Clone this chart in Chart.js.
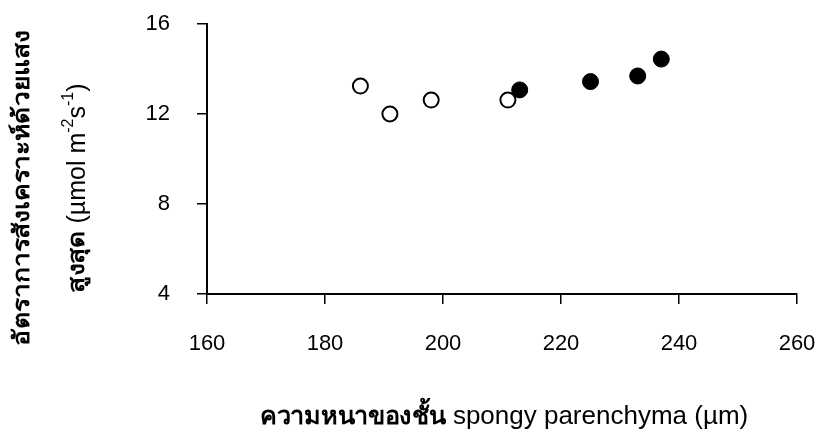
<!DOCTYPE html>
<html>
<head>
<meta charset="utf-8">
<script src="https://cdn.jsdelivr.net/npm/chart.js@4/dist/chart.umd.min.js"></script>
<style>
html, body { margin: 0; padding: 0; background: #fff; }
#wrap { width: 821px; height: 444px; }
</style>
</head>
<body>
<div id="wrap"><canvas id="photoChart" width="821" height="444"></canvas></div>
<script>
// spongy parenchyma thickness (µm) vs max photosynthesis rate
const openX = [186, 191, 198, 211];
const openY = [13.24, 12.0, 12.62, 12.62];
const filledX = [213, 225, 233, 237];
const filledY = [13.07, 13.44, 13.69, 14.44];
const xRange = [160, 260, 20];
const yRange = [4, 16, 4];

const xTitle = [
  { text: "ความหนาของชั้น", bold: true, thai: true },
  { text: " spongy parenchyma (µm)" }
];
const yTitle1 = [{ text: "อัตราการสังเคราะห์ด้วยแสง", bold: true, thai: true }];
const yTitle2 = [
  { text: "สูงสุด", bold: true, thai: true },
  { text: " (µmol m" },
  { text: "-2", sup: true },
  { text: "s" },
  { text: "-1", sup: true },
  { text: ")" }
];

const FAMILY = '"Liberation Sans", Arial, sans-serif';

function runFont(r, st) {
  let s = st.latin;
  if (r.sup) s = Math.round(st.latin * 0.65);
  if (r.thai) s = st.thai;
  return (r.bold ? "bold " : "") + s + "px " + FAMILY;
}

// draws a line of mixed runs centred on the origin; thai runs get a horizontal stretch
function drawRuns(ctx, runs, st) {
  let total = 0;
  runs.forEach(r => {
    ctx.font = runFont(r, st);
    r.w = ctx.measureText(r.text).width * (r.thai ? st.stretch : 1);
    total += r.w;
  });
  let x = -total / 2;
  runs.forEach(r => {
    ctx.font = runFont(r, st);
    if (r.thai) {
      ctx.save();
      ctx.translate(x, 0);
      ctx.scale(st.stretch, 1);
      ctx.fillText(r.text, 0, 0);
      ctx.restore();
    } else {
      ctx.fillText(r.text, x, r.sup ? -st.latin * 0.36 : 0);
    }
    x += r.w;
  });
}

const titlePlugin = {
  id: "axisTitles",
  afterDraw(chart) {
    const ctx = chart.ctx;
    const a = chart.chartArea;
    ctx.save();
    ctx.fillStyle = "#000";
    ctx.textAlign = "left";
    ctx.textBaseline = "middle";

    ctx.save();
    ctx.translate((a.left + a.right) / 2 + 2, 417);
    drawRuns(ctx, xTitle, { thai: 24, latin: 26, stretch: 1.05 });
    ctx.restore();

    ctx.save();
    ctx.translate(23, 188);
    ctx.rotate(-Math.PI / 2);
    drawRuns(ctx, yTitle1, { thai: 23, latin: 26, stretch: 1.15 });
    ctx.restore();

    ctx.save();
    ctx.translate(78, 188);
    ctx.rotate(-Math.PI / 2);
    drawRuns(ctx, yTitle2, { thai: 23, latin: 25, stretch: 1.15 });
    ctx.restore();

    ctx.restore();
  }
};

const toPoints = (xs, ys) => xs.map((x, i) => ({ x: x, y: ys[i] }));

new Chart(document.getElementById("photoChart"), {
  type: "scatter",
  data: {
    datasets: [
      {
        label: "open",
        data: toPoints(openX, openY),
        pointRadius: 7.5,
        pointBorderWidth: 2,
        pointBackgroundColor: "#fff",
        pointBorderColor: "#000",
        order: 2
      },
      {
        label: "filled",
        data: toPoints(filledX, filledY),
        pointRadius: 8,
        pointBorderWidth: 1,
        pointBackgroundColor: "#000",
        pointBorderColor: "#000",
        order: 1
      }
    ]
  },
  options: {
    responsive: false,
    animation: false,
    layout: { padding: { top: 24, right: 24, left: 0, bottom: 0 } },
    plugins: {
      legend: { display: false },
      tooltip: { enabled: false }
    },
    scales: {
      x: {
        type: "linear",
        min: xRange[0],
        max: xRange[1],
        ticks: { stepSize: xRange[2], color: "#000", padding: 27, font: { family: FAMILY, size: 22 } },
        grid: { drawOnChartArea: false, drawTicks: true, tickLength: 10, color: "#000", lineWidth: 1.5 },
        border: { color: "#000", width: 2 },
        afterFit(scale) {
          scale.height = 150;
          scale.paddingLeft = 0;
          scale.paddingRight = 0;
        }
      },
      y: {
        type: "linear",
        min: yRange[0],
        max: yRange[1],
        ticks: { stepSize: yRange[2], color: "#000", padding: 27, font: { family: FAMILY, size: 22 } },
        grid: { drawOnChartArea: false, drawTicks: true, tickLength: 10, color: "#000", lineWidth: 1.5 },
        border: { color: "#000", width: 2 },
        afterFit(scale) {
          scale.width = 207;
          scale.paddingTop = 0;
          scale.paddingBottom = 0;
        }
      }
    }
  },
  plugins: [titlePlugin]
});
</script>
</body>
</html>
